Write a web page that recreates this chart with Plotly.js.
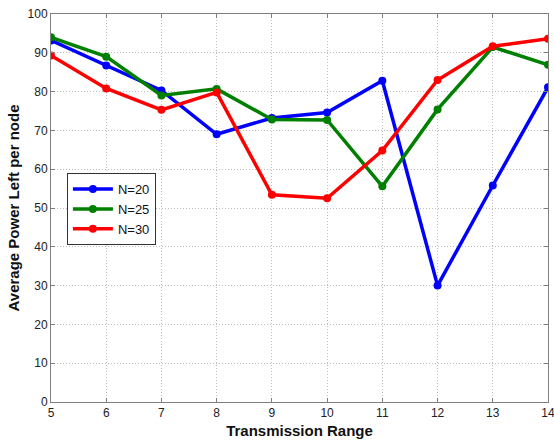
<!DOCTYPE html>
<html><head><meta charset="utf-8">
<script src="https://cdn.plot.ly/plotly-3.0.1.min.js"></script>
<style>html,body{margin:0;padding:0;background:#fff;}#chart{width:554px;height:443px;}</style>
</head><body><div id="chart"></div>
<script>
const ranges = [5, 6, 7, 8, 9, 10, 11, 12, 13, 14];
const n20 = [93.2, 86.7, 80.3, 69.0, 73.2, 74.6, 82.8, 30.0, 55.8, 81.1];
const n25 = [94.0, 89.0, 79.0, 80.7, 72.8, 72.7, 55.6, 75.4, 91.5, 86.9];
const n30 = [89.3, 80.8, 75.3, 79.8, 53.4, 52.5, 64.8, 83.0, 91.7, 93.6];
const names = ['N=20', 'N=25', 'N=30'];
const colors = ['#0000ff', '#008000', '#ff0000'];
const series = [n20, n25, n30];

const traces = series.map((ys, i) => ({
  x: ranges, y: ys, name: names[i], type: 'scatter', mode: 'lines+markers',
  line: {color: colors[i], width: 3.5},
  marker: {color: colors[i], size: 8, symbol: 'circle'}
}));

const axisCommon = {
  showgrid: true, gridcolor: '#bdbdbd', griddash: '1px,2px', gridwidth: 1,
  showline: true, linecolor: '#7f7f7f', linewidth: 1, mirror: 'ticks',
  ticks: 'inside', ticklen: 4, tickcolor: '#7f7f7f',
  zeroline: false, automargin: false, ticklabeloverflow: 'allow',
  tickfont: {family: 'Liberation Sans, Arial, sans-serif', size: 12, color: '#222'}
};

const layout = {
  width: 554, height: 443,
  margin: {l: 51, r: 6, t: 14, b: 41},
  paper_bgcolor: '#fff', plot_bgcolor: '#fff',
  showlegend: true,
  legend: {
    x: 0.032, y: 0.59, xanchor: 'left', yanchor: 'top',
    bgcolor: '#fff', bordercolor: '#333', borderwidth: 1,
    font: {family: 'Liberation Sans, Arial, sans-serif', size: 13, color: '#111'},
    tracegroupgap: 0, itemwidth: 40
  },
  xaxis: Object.assign({}, axisCommon, {
    range: [5, 14], dtick: 1, tick0: 5,
    title: {text: 'Transmission Range', standoff: 6,
      font: {family: 'Liberation Sans, Arial, sans-serif', size: 15, color: '#111', weight: 'bold'}}
  }),
  yaxis: Object.assign({}, axisCommon, {
    range: [0, 100], dtick: 10, tick0: 0,
    title: {text: 'Average Power Left per node', standoff: 4,
      font: {family: 'Liberation Sans, Arial, sans-serif', size: 15, color: '#111', weight: 'bold'}}
  })
};

Plotly.newPlot('chart', traces, layout, {displayModeBar: false, staticPlot: true});
</script>
</body></html>
